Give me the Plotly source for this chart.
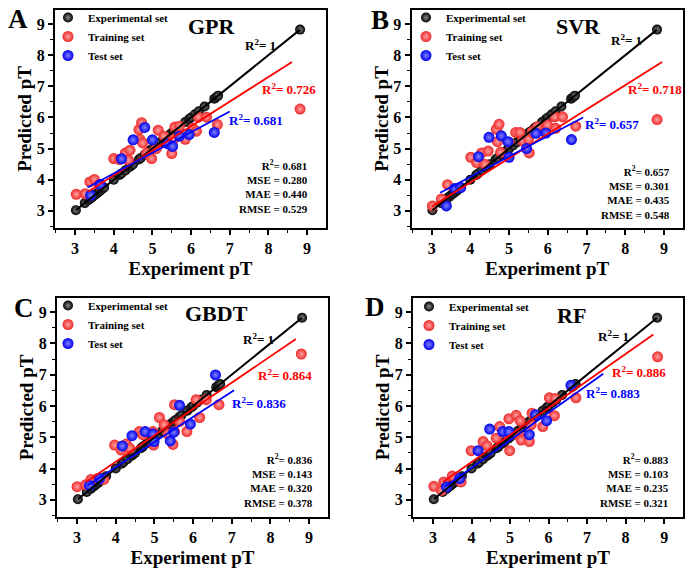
import plotly.graph_objects as go

FONT = "Liberation Serif"

# ---------------- data ----------------
exp_pT = [3.02, 3.25, 3.35, 3.4, 3.45, 3.5, 3.55, 3.6, 3.65, 3.7, 3.75, 4.0, 4.15, 4.2,
          4.3, 4.4, 4.45, 4.5, 4.65, 4.7, 4.8, 4.85, 4.95, 5.0, 5.1, 5.2, 5.3, 5.4, 5.45,
          5.5, 5.55, 5.65, 5.7, 5.85, 5.95, 6.0, 6.1, 6.2, 6.35, 6.6, 6.65, 6.7, 8.82]

models = ["GPR", "SVR", "GBDT", "RF"]
panel_letters = ["A", "B", "C", "D"]

gpr_train_x = [3.03, 3.26, 3.38, 3.5, 3.62, 4.0, 4.15, 4.3, 4.38, 4.42, 4.65, 4.72, 4.68, 4.75, 4.85,
               4.98, 5.1, 5.15, 5.3, 5.5, 5.55, 5.58, 5.7, 5.85, 6.05, 6.14, 6.19, 6.4, 6.68, 8.82]
gpr_train_y = [3.53, 3.55, 3.93, 4.01, 3.85, 4.68, 4.65, 4.86, 4.63, 4.95, 5.61, 5.83, 5.29, 5.18, 4.85,
               4.68, 5.0, 5.59, 5.4, 4.84, 5.3, 5.69, 5.72, 5.3, 5.65, 5.56, 6.01, 6.01, 5.77, 6.27]
gpr_test_x = [3.4, 3.65, 4.2, 4.5, 4.8, 5.0, 5.4, 5.52, 5.7, 5.95, 6.6]
gpr_test_y = [3.5, 3.85, 4.67, 5.28, 5.68, 5.28, 5.15, 5.07, 5.4, 5.45, 5.52]

svr_train_x = [3.02, 3.25, 3.41, 4.01, 4.16, 4.29, 4.37, 4.46, 4.67, 4.74, 4.70, 4.78, 5.0, 5.17,
               5.28, 5.35, 5.5, 5.52, 5.6, 5.73, 5.92, 5.99, 6.18, 6.2, 6.38, 6.72, 8.82]
svr_train_y = [3.16, 3.38, 3.84, 4.72, 4.55, 4.86, 4.5, 4.92, 5.62, 5.78, 5.22, 4.88, 5.2, 5.52,
               5.52, 5.25, 5.3, 4.86, 5.54, 5.7, 5.54, 5.76, 6.02, 5.65, 6.02, 5.72, 5.93]
svr_test_x = [3.38, 3.6, 3.75, 4.21, 4.48, 4.8, 4.97, 5.0, 5.45, 5.69, 5.95, 6.61]
svr_test_y = [3.16, 3.72, 3.75, 4.74, 5.36, 5.41, 5.22, 4.72, 5.0, 5.49, 5.5, 5.29]

gbdt_train_x = [3.0, 3.22, 3.36, 3.53, 3.69, 3.97, 4.14, 4.27, 4.36, 4.61, 4.7, 4.96, 4.98, 5.13,
                5.25, 5.35, 5.48, 5.52, 5.52, 5.65, 5.84, 6.08, 6.17, 6.34, 6.67, 8.8]
gbdt_train_y = [3.42, 3.48, 3.65, 3.68, 3.65, 4.75, 4.59, 4.78, 4.65, 5.18, 5.08, 5.18, 4.75, 5.63,
                5.4, 5.1, 4.77, 6.04, 5.18, 5.5, 5.18, 6.2, 5.63, 6.2, 6.04, 7.66]
gbdt_test_x = [3.32, 3.58, 4.17, 4.42, 4.76, 4.96, 4.99, 5.41, 5.5, 5.65, 5.93, 6.58]
gbdt_test_y = [3.46, 3.68, 4.72, 5.05, 5.18, 5.1, 4.86, 4.88, 5.16, 6.02, 5.42, 6.99]

rf_train_x = [3.02, 3.22, 3.28, 3.5, 3.73, 3.99, 4.3, 4.4, 4.64, 4.73, 4.9, 4.97, 4.99, 5.16,
              5.25, 5.26, 5.29, 5.5, 5.55, 5.57, 5.85, 6.02, 6.15, 6.17, 6.71, 8.83]
rf_train_y = [3.43, 3.3, 3.57, 3.76, 3.57, 4.57, 4.86, 4.73, 4.97, 5.34, 5.13, 5.59, 4.57, 5.7,
              5.02, 5.53, 4.91, 4.86, 5.4, 5.77, 5.34, 6.26, 5.69, 6.24, 6.26, 7.57]
rf_test_x = [3.35, 3.69, 4.17, 4.47, 4.81, 4.97, 5.5, 5.66, 5.95, 6.58]
rf_test_y = [3.41, 3.68, 4.57, 5.26, 5.18, 5.18, 5.08, 5.72, 5.53, 6.66]

# regression line end points
ideal_fit_x = [3.02, 8.82]
gpr_train_fit_x, gpr_train_fit_y = [3.34, 8.61], [3.62, 7.78]
gpr_test_fit_x, gpr_test_fit_y = [3.32, 7.0], [3.75, 6.19]
svr_train_fit_x, svr_train_fit_y = [3.0, 8.95], [3.13, 7.78]
svr_test_fit_x, svr_test_fit_y = [3.22, 6.91], [3.58, 6.0]
gbdt_train_fit_x, gbdt_train_fit_y = [3.23, 8.66], [3.57, 8.14]
gbdt_test_fit_x, gbdt_test_fit_y = [3.27, 7.06], [3.46, 6.5]
rf_train_fit_x, rf_train_fit_y = [3.26, 8.72], [3.57, 8.28]
rf_test_fit_x, rf_test_fit_y = [3.3, 7.42], [3.41, 7.03]

train_r2 = ["0.726", "0.718", "0.864", "0.886"]
test_r2 = ["0.681", "0.657", "0.836", "0.883"]
mse = ["0.280", "0.301", "0.143", "0.103"]
mae = ["0.440", "0.435", "0.320", "0.235"]
rmse = ["0.529", "0.548", "0.378", "0.321"]

train_x = [gpr_train_x, svr_train_x, gbdt_train_x, rf_train_x]
train_y = [gpr_train_y, svr_train_y, gbdt_train_y, rf_train_y]
test_x = [gpr_test_x, svr_test_x, gbdt_test_x, rf_test_x]
test_y = [gpr_test_y, svr_test_y, gbdt_test_y, rf_test_y]
train_fit = [(gpr_train_fit_x, gpr_train_fit_y), (svr_train_fit_x, svr_train_fit_y),
             (gbdt_train_fit_x, gbdt_train_fit_y), (rf_train_fit_x, rf_train_fit_y)]
test_fit = [(gpr_test_fit_x, gpr_test_fit_y), (svr_test_fit_x, svr_test_fit_y),
            (gbdt_test_fit_x, gbdt_test_fit_y), (rf_test_fit_x, rf_test_fit_y)]

# ---------------- layout geometry (pixels) ----------------
W, H = 700, 574
frames = [(55, 326, 10, 228), (411.5, 683, 10, 228), (57, 328, 298, 517), (413, 683, 298, 517)]
# annotation placements per panel (data coords)
title_pos = [(6.54, 8.92), (6.8, 8.92), (6.6, 8.95), (6.6, 8.9)]
ideal_lbl = [(7.34, 8.31), (7.59, 8.49), (7.25, 8.14), (7.23, 8.25)]
train_lbl = [(7.78, 6.92), (8.02, 6.9), (7.62, 6.99), (7.6, 7.1)]
test_lbl = [(6.93, 5.93), (6.9, 5.79), (6.95, 6.1), (6.93, 6.42)]
stats_pos = [(9.07, 3.77), (9.21, 3.6), (9.15, 3.63), (9.17, 3.63)]
letter_px = [(18, 19), (380, 20), (24, 308), (375, 307)]
legend_px = [(48, 3), (406, 3), (48, 291), (409, 292)]

RED, BLUE, BLACK = "#ff0000", "#0000ff", "#000000"

fig = go.Figure()
annotations = []
XR = [2.48, 9.49]
YR = [2.45, 9.45]


def bold(s):
    return "<b>" + s + "</b>"


for i in range(4):
    n = "" if i == 0 else str(i + 1)
    xa, ya = "x" + n, "y" + n
    leg = "legend" + n
    fig.add_trace(go.Scatter(x=exp_pT, y=exp_pT, mode="markers", name="Experimental set",
                             xaxis=xa, yaxis=ya, legend=leg,
                             marker=dict(size=10, color="#000000",
                                         gradient=dict(type="radial", color="#8a8a8a"))))
    fig.add_trace(go.Scatter(x=train_x[i], y=train_y[i], mode="markers", name="Training set",
                             xaxis=xa, yaxis=ya, legend=leg,
                             marker=dict(size=11, color="#ee2a2a",
                                         gradient=dict(type="radial", color="#ffa0a0"))))
    fig.add_trace(go.Scatter(x=test_x[i], y=test_y[i], mode="markers", name="Test set",
                             xaxis=xa, yaxis=ya, legend=leg,
                             marker=dict(size=11, color="#0000ee",
                                         gradient=dict(type="radial", color="#8080ff"))))
    fig.add_trace(go.Scatter(x=ideal_fit_x, y=ideal_fit_x, mode="lines", showlegend=False,
                             xaxis=xa, yaxis=ya, line=dict(color=BLACK, width=2)))
    fig.add_trace(go.Scatter(x=train_fit[i][0], y=train_fit[i][1], mode="lines", showlegend=False,
                             xaxis=xa, yaxis=ya, line=dict(color=RED, width=1.8)))
    fig.add_trace(go.Scatter(x=test_fit[i][0], y=test_fit[i][1], mode="lines", showlegend=False,
                             xaxis=xa, yaxis=ya, line=dict(color=BLUE, width=1.8)))

    l, r, t, b = frames[i]
    axis_common = dict(showgrid=False, zeroline=False, showline=True, linecolor="black",
                       linewidth=2, mirror=True, ticks="outside", ticklen=5, tickwidth=1.5,
                       tickcolor="black", dtick=1, tick0=0,
                       tickfont=dict(family=FONT, size=16, color="black", weight="bold"),
                       minor=dict(ticks="outside", ticklen=3, tickwidth=1.2, dtick=0.5,
                                  tickcolor="black"))
    fig.update_layout({
        "xaxis" + n: dict(axis_common, domain=[l / W, r / W], range=XR, anchor=ya,
                          title=dict(text=bold("Experiment pT"), standoff=5,
                                     font=dict(family=FONT, size=19, color="black"))),
        "yaxis" + n: dict(axis_common, domain=[1 - b / H, 1 - t / H], range=YR, anchor=xa,
                          title=dict(text=bold("Predicted pT"), standoff=0,
                                     font=dict(family=FONT, size=19, color="black"))),
        leg: dict(x=legend_px[i][0] / W, y=1 - legend_px[i][1] / H, xanchor="left", yanchor="top",
                  bgcolor="rgba(0,0,0,0)", tracegroupgap=0,
                  font=dict(family=FONT, size=11, color="black", weight="bold")),
    })

    def ann(text, x, y, color="black", size=12, xanchor="left", align="left"):
        annotations.append(dict(text=bold(text), x=x, y=y, xref=xa, yref=ya, showarrow=False,
                                xanchor=xanchor, yanchor="middle", align=align,
                                font=dict(family=FONT, size=size, color=color)))

    ann(models[i], title_pos[i][0], title_pos[i][1], size=22, xanchor="center")
    ann("R<sup>2</sup>= 1", ideal_lbl[i][0], ideal_lbl[i][1], size=13)
    ann("R<sup>2</sup>= " + train_r2[i], train_lbl[i][0], train_lbl[i][1], color=RED, size=13)
    ann("R<sup>2</sup>= " + test_r2[i], test_lbl[i][0], test_lbl[i][1], color=BLUE, size=13)
    ann("R<sup>2</sup>= %s<br>MSE = %s<br>MAE = %s<br>RMSE = %s" % (test_r2[i], mse[i], mae[i], rmse[i]),
        stats_pos[i][0], stats_pos[i][1], size=11, xanchor="right", align="right")
    annotations.append(dict(text=bold(panel_letters[i]), x=letter_px[i][0] / W,
                            y=1 - letter_px[i][1] / H,
                            xref="paper", yref="paper", showarrow=False, xanchor="center",
                            yanchor="middle",
                            font=dict(family=FONT, size=27, color="black")))

fig.update_layout(width=W, height=H, margin=dict(l=0, r=0, t=0, b=0),
                  paper_bgcolor="white", plot_bgcolor="white", annotations=annotations)

fig.write_html("out.html")
